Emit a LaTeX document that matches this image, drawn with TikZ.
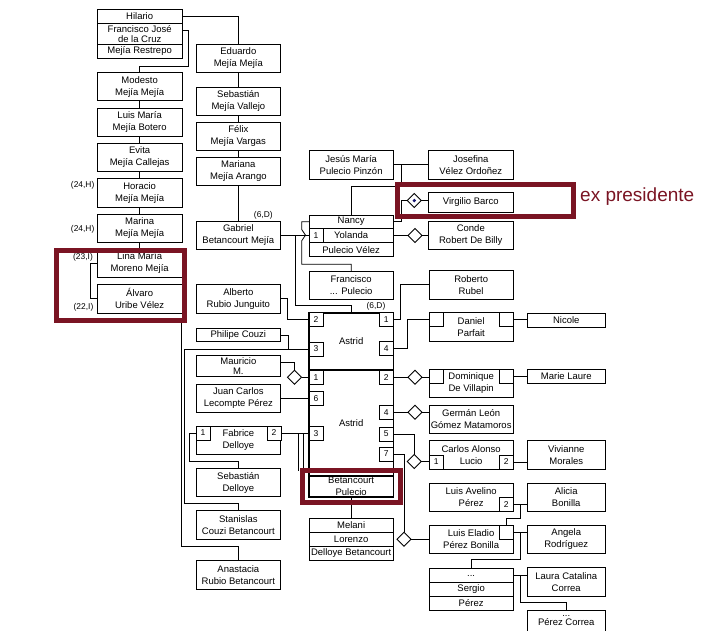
\documentclass[tikz,border=0pt]{standalone}
\usepackage{fontspec}
\setmainfont{Liberation Sans}
\usetikzlibrary{shapes.geometric}
\definecolor{redb}{RGB}{122,20,35}
\definecolor{navyd}{RGB}{20,20,110}
\newcommand\gb[7][]{\node[gbox,#1,minimum width={#5-#3},minimum height={#6-#4}] (#2) at ({(#3+#5)/2},{(#4+#6)/2}) {#7};}
\newcommand\pp[4]{\node[pbox] (#1) at (#2,#3) {#4};}
\begin{document}
\begin{tikzpicture}[x=1pt,y=-1pt,
  gbox/.style={draw,line width=0.8pt,fill=white,inner sep=0pt,outer sep=0pt,align=center,font=\fontsize{9.5}{12}\selectfont},
  thickbox/.style={line width=1.6pt},
  pbox/.style={draw,line width=0.7pt,fill=white,inner sep=0pt,outer sep=0pt,minimum width=14pt,minimum height=14pt,font=\fontsize{8.5}{9}\selectfont},
  dia/.style={diamond,draw,line width=0.8pt,fill=white,inner sep=0pt,outer sep=0pt,minimum width=14pt,minimum height=14pt},
  conn/.style={line width=0.8pt},
  lab/.style={font=\fontsize{8.4}{10}\selectfont,inner sep=0pt},
  redbox/.style={draw=redb,line width=4.7pt}]
\useasboundingbox (0,0) rectangle (707,630);
\clip (0,0) rectangle (707,630);

% ---------- named points on connectors ----------
\coordinate (jj) at (401,164.85);
\coordinate (ga) at (295,235.15);
\coordinate (an) at (181,320.5);
\coordinate (ph) at (288.3,349);
\coordinate (fa) at (298.3,433);
\coordinate (fb) at (303.3,433);
\coordinate (m1) at (520,504.7);
\coordinate (m2) at (520,532);
\coordinate (m3) at (520,575.5);

% ---------- boxes ----------
% left column
\gb{hil}{97}{9}{182.3}{23.3}{Hilario}
\gb[font=\fontsize{9.5}{10}\selectfont]{fjc}{97}{23.3}{182.3}{44.3}{Francisco José\\de la Cruz}
\gb{mr}{97}{44.3}{182.3}{58.3}{Mejía Restrepo}
\gb{mod}{97}{72.7}{182.3}{100.7}{Modesto\\Mejía Mejía}
\gb{lm}{97}{108}{182.3}{136.7}{Luis María\\Mejía Botero}
\gb{evi}{97}{143.3}{182.3}{171.7}{Evita\\Mejía Callejas}
\gb{hor}{97}{178.7}{182.3}{207}{Horacio\\Mejía Mejía}
\gb{mar}{97}{214}{182.3}{242.7}{Marina\\Mejía Mejía}
\gb{lin}{97}{249.3}{182.3}{277.3}{Lina María\\Moreno Mejía}
\gb{alv}{97}{284.3}{182.3}{313.3}{Álvaro\\Uribe Vélez}
% second column
\gb{edu}{196}{44.3}{280.7}{72.3}{Eduardo\\Mejía Mejía}
\gb{seb}{196}{87.3}{280.7}{115}{Sebastián\\Mejía Vallejo}
\gb{fel}{196}{122.3}{280.7}{150}{Félix\\Mejía Vargas}
\gb{mna}{196}{157.7}{280.7}{185.3}{Mariana\\Mejía Arango}
\gb{gab}{196}{221}{280.7}{249.3}{Gabriel\\Betancourt Mejía}
\gb{alb}{196}{284.3}{280.7}{313.3}{Alberto\\Rubio Junguito}
\gb{phi}{196}{328.3}{280.7}{341.7}{Philipe Couzi}
\gb[font=\fontsize{9.5}{9.5}\selectfont]{mau}{196}{355.7}{280.7}{376.7}{Mauricio\\M.}
\gb{jcl}{196}{384}{280.7}{412.3}{Juan Carlos\\Lecompte Pérez}
\gb{fab}{196}{426}{280.7}{454.3}{Fabrice\\Delloye}
\gb{sebd}{196}{468.3}{280.7}{496.7}{Sebastián\\Delloye}
\gb{sta}{196}{510.7}{280.7}{539.3}{Stanislas\\Couzi Betancourt}
\gb{ana}{196}{560.7}{280.7}{589}{Anastacia\\Rubio Betancourt}
% middle column
\gb{jes}{309}{150.7}{393.3}{179}{Jesús María\\Pulecio Pinzón}
\gb{nan}{309}{215}{393.3}{228.3}{Nancy}
\gb{yol}{309}{228.3}{393.3}{242.7}{Yolanda}
\gb{pv}{309}{242.7}{393.3}{256.7}{Pulecio Vélez}
\gb{fra}{309}{271}{393.3}{299}{Francisco\\... Pulecio}
\gb[thickbox]{ast1}{309}{312.7}{393.3}{370}{Astrid}
\gb[thickbox]{ast2}{309}{370}{393.3}{476}{Astrid}
\gb[thickbox,font=\fontsize{9.5}{11.5}\selectfont]{bp}{309}{476}{393.3}{496.7}{Betancourt\\Pulecio}
\gb{mel}{309}{518.3}{393.3}{532.3}{Melani}
\gb{lor}{309}{532.3}{393.3}{546.3}{Lorenzo}
\gb{dbt}{309}{546.3}{393.3}{560.7}{Delloye Betancourt}
% right column
\gb{jos}{428.3}{150.7}{513.3}{179}{Josefina\\Vélez Ordoñez}
\gb{vir}{428.3}{192.3}{513.3}{212.7}{Virgilio Barco}
\gb{con}{428.3}{221.7}{513.3}{249.3}{Conde\\Robert De Billy}
\gb{rob}{429}{270.7}{513.3}{299}{Roberto\\Rubel}
\gb{dan}{429}{312.3}{513.3}{341}{Daniel\\Parfait}
\gb{dom}{429}{369}{513.3}{397.7}{Dominique\\De Villapin}
\gb{ger}{429}{405}{513.3}{433.3}{Germán León\\Gómez Matamoros}
\gb{car}{429}{440.7}{513.3}{469}{Carlos Alonso\\Lucio}
\gb{lav}{429}{483.3}{513.3}{511.7}{Luis Avelino\\Pérez}
\gb{lel}{429}{525}{513.3}{553.3}{Luis Eladio\\Pérez Bonilla}
\gb{s1}{429}{568.3}{513.3}{582.7}{...}
\gb{s2}{429}{582.7}{513.3}{596}{Sergio}
\gb{s3}{429}{596}{513.3}{610}{Pérez}
% far right
\gb{nic}{527.5}{313.3}{605}{327.7}{Nicole}
\gb{mla}{527.5}{369.3}{605}{383.3}{Marie Laure}
\gb{viv}{527.5}{440.7}{605}{469}{Vivianne\\Morales}
\gb{ali}{527.5}{483.3}{605}{511.7}{Alicia\\Bonilla}
\gb{ang}{527.5}{525}{605}{553.3}{Angela\\Rodríguez}
\gb{lau}{527.5}{567.7}{605}{596}{Laura Catalina\\Correa}
\gb[font=\fontsize{9.5}{9}\selectfont]{pc}{527.5}{610}{605}{632}{...\\Pérez Correa}

% ---------- ports ----------
\pp{yp}{316.1}{235.5}{1}
\pp{ap2}{316}{319.7}{2}
\pp{ap1}{386.3}{319.7}{1}
\pp{ap3}{316}{349}{3}
\pp{ap4}{386.3}{348.7}{4}
\pp{bp1}{316}{377.2}{1}
\pp{bp2}{386.3}{377.2}{2}
\pp{bp6}{316}{398.3}{6}
\pp{bp4}{386.3}{412.2}{4}
\pp{bp3}{316}{433.7}{3}
\pp{bp5}{386.3}{434}{5}
\pp{bp7}{386.3}{454}{7}
\pp{fp1}{203}{433}{1}
\pp{fp2}{274}{433}{2}
\pp{dp1}{436.2}{319.3}{}
\pp{dp2}{506.3}{319.3}{}
\pp{dop1}{436.2}{376}{}
\pp{dop2}{506.3}{376}{}
\pp{cp1}{436.2}{462}{1}
\pp{cp2}{506.3}{462}{2}
\pp{lp2}{506.3}{504.7}{2}
\pp{lep}{506.3}{532}{}

% ---------- diamonds ----------
\node[dia] (dv) at (414.3,200.5) {};
\fill[navyd] (dv.center) circle (1.8pt);
\node[dia] (dc) at (415,235.5) {};
\node[dia] (dm) at (294.5,377.2) {};
\node[dia] (dd) at (415,377.2) {};
\node[dia] (dg) at (415,412.2) {};
\node[dia] (dcar) at (414.3,461.5) {};
\node[dia] (dle) at (404,539.3) {};

% ---------- connector lines ----------
\draw[conn] (hil.east) -| (edu.north);
\draw[conn] ([yshift=3.8pt]fjc.east) -- (188,30) -- (188,66) -| (mod.north);
\draw[conn] (mod.south) -- (lm.north);
\draw[conn] (lm.south) -- (evi.north);
\draw[conn] (evi.south) -- (hor.north);
\draw[conn] (hor.south) -- (mar.north);
\draw[conn] (mar.south) -- (lin.north);
\draw[conn] (edu.south) -- (seb.north);
\draw[conn] (seb.south) -- (fel.north);
\draw[conn] (fel.south) -- (mna.north);
\draw[conn] (mna.south) -- (gab.north);
\draw[conn] (lin.west) -- ++(-7,0) |- (alv.west);
\draw[conn] (jes.east) -- (jos.west);
\draw[conn] (jj) -- (401,186.7) -| (nan.north);
\draw[conn] (nan.east) -- (401,221.65) |- (dv.west);
\draw[conn] (dv.east) -- (dv.east -| vir.west);
\draw[conn] (yol.east) -- (dc.west);
\draw[conn] (dc.east) -- (dc.east -| con.west);
\draw[conn] (gab.east) -- (gab.east -| yp.west);
\draw[conn] (ga) -- (295,305) -| (ast1.north);
\draw[conn] (nan.west) -- (301.7,221.65) -- (301.7,229.5) -- (305.5,235.15) -- (301.7,240.8) -- (301.7,264.3) -| (fra.north);
\draw[conn] (alb.east) -- (287.3,298.8) |- (ap2.west);
\draw[conn] (an) -- (181,546.3) -| (ana.north);
\draw[conn] (phi.east) -- (288.3,335) -- (ph);
\draw[conn] (ap3.west) -- (184,349) -- (184,503.3) -| (sta.north);
\draw[conn] ([yshift=3.5pt]mau.east) -- (294.5,362.7) -- (dm.north);
\draw[conn] (dm.east) -- (dm.east -| bp1.west);
\draw[conn] (jcl.east) -- (jcl.east -| bp6.west);
\draw[conn] (fp2.east) -- (fp2.east -| bp3.west);
\draw[conn] (fa) -- (298.3,470.5);
\draw[conn] (fb) -- (303.3,470.5);
\draw[conn] (fp1.west) -- (189,433) -- (189,461) -| (sebd.north);
\draw[conn] (ap1.east) -- (400.7,319.7) |- (rob.west);
\draw[conn] (ap4.east) -- (407.3,348.7) |- (dp1.west);
\draw[conn] (dp2.east) -- (dp2.east -| nic.west);
\draw[conn] (bp2.east) -- (dd.west);
\draw[conn] (dd.east) -- (dd.east -| dop1.west);
\draw[conn] (dop2.east) -- (dop2.east -| mla.west);
\draw[conn] (bp4.east) -- (dg.west);
\draw[conn] (dg.east) -- (dg.east -| ger.west);
\draw[conn] (bp5.east) -- (414.3,434) -- (dcar.north);
\draw[conn] (dcar.east) -- (dcar.east -| cp1.west);
\draw[conn] (cp2.east) -- (cp2.east -| viv.west);
\draw[conn] (bp7.east) -- (404,454) -- (dle.north);
\draw[conn] (dle.east) -- (dle.east -| lel.west);
\draw[conn] (lp2.east) -- (lp2.east -| ali.west);
\draw[conn] (m1) -- (520,518.3) -| (lep.north);
\draw[conn] (lep.east) -- (lep.east -| ang.west);
\draw[conn] (m2) -- (520,559.3) -| (s1.north);
\draw[conn] (s1.east) -- (s1.east -| lau.west);
\draw[conn] (m3) -- (520,602.7) -| (pc.north);
\draw[conn] (bp.south) -- (mel.north);

% ---------- labels ----------
\node[lab,anchor=east] (l1) at (94.5,185.7) {(24,H)};
\node[lab,anchor=east] (l2) at (94.5,229) {(24,H)};
\node[lab,anchor=east] (l3) at (93,257.3) {(23,I)};
\node[lab,anchor=east] (l4) at (93.5,307.3) {(22,I)};
\node[lab] (l5) at (263.3,215) {(6,D)};
\node[lab] (l6) at (376,306) {(6,D)};

% ---------- highlights ----------
\draw[redbox] (56.7,250.8) rectangle (184.7,320.5);
\draw[redbox] (397.5,184.2) rectangle (573.5,216.2);
\draw[redbox] (302.5,470.5) rectangle (400.3,502.2);
\node[font=\fontsize{19}{22}\selectfont,text=redb,anchor=west,inner sep=0pt] (exp) at (580,197) {ex presidente};
\end{tikzpicture}
\end{document}
